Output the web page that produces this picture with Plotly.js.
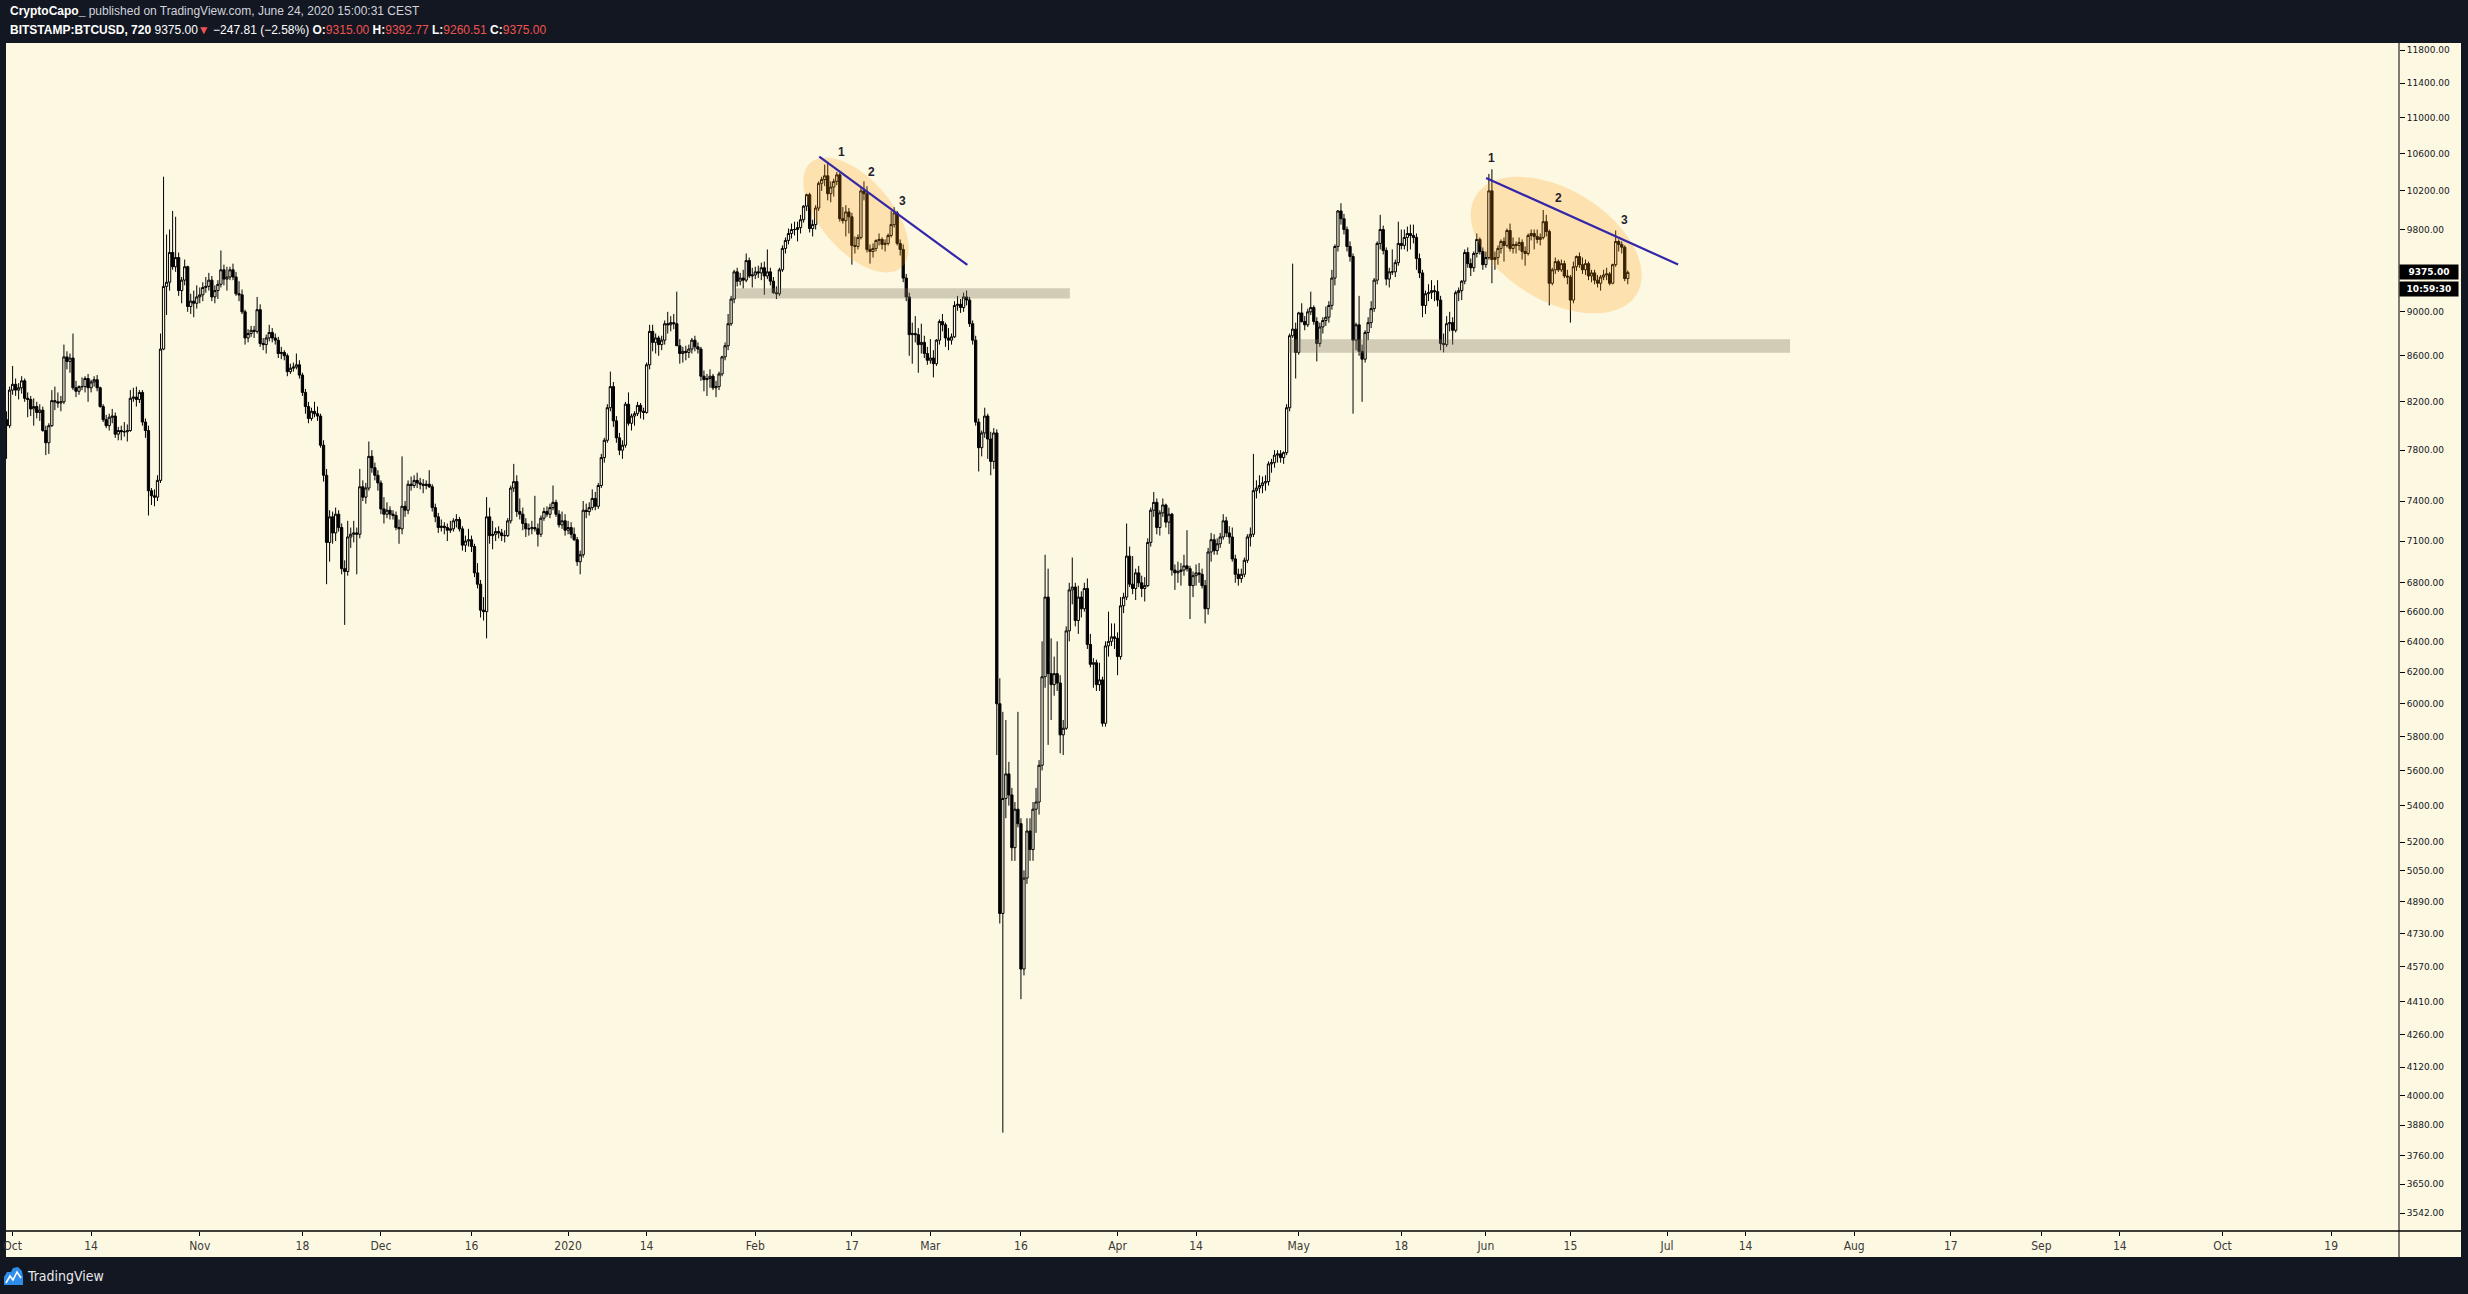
<!DOCTYPE html>
<html>
<head>
<meta charset="utf-8">
<script src="https://cdn.plot.ly/plotly-3.0.1.min.js"></script>
<style>
html,body{margin:0;padding:0;background:#131722;overflow:hidden}
#chart{width:2468px;height:1294px}
</style>
</head>
<body>
<div id="chart"></div>
<script>
// ===== DATA: 12h candles [open, high, low, close], BITSTAMP:BTCUSD =====
const sep2019 = [[8050,8120,7730,8000],[8000,8330,7980,8300]];
const oct2019 = [
[8300,8510,8260,8350],[8350,8400,8250,8300],[8300,8360,8220,8320],[8320,8420,8270,8380],
[8380,8400,8200,8230],[8230,8280,8070,8220],[8220,8250,8080,8140],[8140,8230,8000,8160],
[8160,8200,8060,8110],[8110,8180,8040,8130],[8130,8160,7950,7960],[7960,8000,7760,7860],
[7860,8020,7770,8000],[8000,8300,7990,8210],[8210,8330,8130,8200],[8200,8280,8150,8190],
[8190,8250,8120,8200],[8200,8700,8180,8590],[8590,8640,8480,8550],[8550,8620,8450,8580],
[8580,8800,8300,8320],[8320,8380,8240,8290],[8290,8340,8260,8330],[8330,8410,8300,8330],
[8330,8420,8280,8400],[8400,8440,8200,8320],[8320,8390,8280,8370],[8370,8420,8330,8390],
[8390,8430,8290,8320],[8320,8330,8150,8160],[8160,8180,8030,8050],[8050,8090,7980,8000],
[8000,8100,7960,8070],[8070,8140,8020,8080],[8080,8110,7900,7930],[7930,7990,7880,7960],
[7960,8000,7880,7950],[7950,8030,7910,7950],[7950,8010,7870,7960],[7960,8300,7950,8230],
[8230,8320,8200,8240],[8240,8330,8160,8220],[8220,8300,8190,8280],[8280,8300,8000,8030],
[8030,8060,7900,7960],[7960,8000,7290,7480],[7480,7500,7370,7440],[7440,7490,7360,7430],
[7430,7600,7400,7560],[7560,8800,7540,8660],[8660,10350,8650,9240],[9240,9750,8970,9280],
[9280,9800,9200,9570],[9570,9990,9400,9430],[9430,9930,9380,9520],[9520,9570,9150,9200],
[9200,9330,9080,9300],[9300,9500,9250,9430],[9430,9440,9000,9050],[9050,9170,8980,9100],
[9100,9200,8950,9080],[9080,9250,9030,9140]];
const nov2019 = [
[9140,9230,9080,9160],[9160,9280,9100,9230],[9230,9330,9180,9240],[9240,9370,9200,9300],
[9300,9340,9100,9140],[9140,9250,9080,9200],[9200,9300,9120,9260],[9260,9590,9230,9400],
[9400,9450,9250,9310],[9310,9430,9200,9330],[9330,9430,9300,9400],[9400,9460,9300,9330],
[9330,9380,9150,9170],[9170,9290,9100,9160],[9160,9210,8980,9000],[9000,9020,8700,8760],
[8760,8840,8720,8800],[8800,8870,8770,8830],[8830,8870,8760,8820],[8820,9140,8800,9020],
[9020,9070,8680,8710],[8710,8760,8650,8700],[8700,8790,8620,8760],[8760,8880,8730,8810],
[8810,8850,8720,8760],[8760,8800,8700,8740],[8740,8770,8580,8620],[8620,8680,8570,8630],
[8630,8650,8560,8600],[8600,8620,8420,8460],[8460,8530,8440,8490],[8490,8540,8460,8500],
[8500,8620,8480,8520],[8520,8560,8400,8430],[8430,8450,8250,8280],[8280,8310,8100,8160],
[8160,8200,8020,8060],[8060,8150,8040,8120],[8120,8200,8070,8100],[8100,8160,8040,8080],
[8080,8100,7820,7840],[7840,7880,7550,7600],[7600,7650,6790,7090],[7090,7330,6950,7280],
[7280,7320,7080,7160],[7160,7350,7100,7300],[7300,7330,7170,7200],[7200,7230,6860,6900],
[6900,6960,6510,6880],[6880,7250,6850,7130],[7130,7200,7050,7150],[7150,7250,7090,7160],
[7160,7200,6860,7150],[7150,7650,7120,7510],[7510,7560,7400,7430],[7430,7540,7380,7500],
[7500,7870,7480,7750],[7750,7800,7620,7660],[7660,7700,7560,7600],[7600,7640,7480,7540]];
const dec2019 = [
[7540,7560,7300,7340],[7340,7430,7230,7300],[7300,7390,7270,7330],[7330,7360,7260,7300],
[7300,7330,7260,7290],[7290,7320,7180,7200],[7200,7260,7080,7190],[7190,7750,7150,7360],
[7360,7400,7280,7330],[7330,7560,7300,7530],[7530,7590,7480,7520],[7520,7600,7500,7560],
[7560,7620,7500,7540],[7540,7580,7490,7530],[7530,7570,7460,7520],[7520,7560,7490,7530],
[7530,7640,7500,7510],[7510,7530,7320,7350],[7350,7380,7240,7280],[7280,7310,7160,7200],
[7200,7260,7170,7210],[7210,7240,7150,7200],[7200,7230,7100,7180],[7180,7250,7160,7190],
[7190,7270,7170,7250],[7250,7300,7200,7260],[7260,7280,7170,7190],[7190,7210,7030,7070],
[7070,7140,7020,7100],[7100,7190,7060,7110],[7110,7140,7020,7060],[7060,7080,6840,6870],
[6870,6940,6760,6790],[6790,6820,6560,6610],[6610,6700,6540,6600],[6600,7430,6420,7280],
[7280,7350,7080,7140],[7140,7250,7040,7150],[7150,7200,7100,7170],[7170,7210,7120,7160],
[7160,7190,7100,7140],[7140,7180,7090,7140],[7140,7270,7130,7250],[7250,7520,7230,7500],
[7500,7690,7470,7550],[7550,7600,7280,7320],[7320,7420,7260,7300],[7300,7350,7180,7230],
[7230,7270,7130,7190],[7190,7230,7140,7190],[7190,7250,7150,7200],[7200,7440,7170,7190],
[7190,7230,7060,7150],[7150,7290,7130,7270],[7270,7350,7250,7320],[7320,7360,7280,7300],
[7300,7380,7270,7350],[7350,7520,7330,7390],[7390,7410,7280,7300],[7300,7330,7200,7220],
[7220,7320,7190,7250],[7250,7300,7140,7180]];
const jan2020 = [
[7180,7250,7150,7200],[7200,7240,7120,7150],[7150,7200,7100,7110],[7110,7130,6920,6950],
[6950,7030,6860,7000],[7000,7400,6980,7330],[7330,7380,7270,7320],[7320,7390,7290,7350],
[7350,7490,7330,7420],[7420,7470,7330,7360],[7360,7540,7340,7520],[7520,7770,7500,7740],
[7740,7900,7700,7880],[7880,8180,7860,8150],[8150,8460,8120,8330],[8330,8370,7990,8040],
[8040,8080,7860,7900],[7900,7940,7760,7800],[7800,7880,7730,7840],[7840,8200,7820,8180],
[8180,8280,8000,8020],[8020,8100,7960,8080],[8080,8120,8000,8100],[8100,8200,8080,8170],
[8170,8190,8060,8120],[8120,8150,8050,8110],[8110,8540,8100,8520],[8520,8880,8480,8820],
[8820,8880,8640,8720],[8720,8800,8620,8760],[8760,8780,8600,8700],[8700,8780,8650,8740],
[8740,8920,8700,8890],[8890,9000,8800,8880],[8880,8960,8820,8900],[8900,8980,8840,8890],
[8890,9190,8850,8690],[8690,8750,8530,8620],[8620,8680,8540,8640],[8640,8690,8560,8630],
[8630,8700,8580,8660],[8660,8760,8620,8740],[8740,8780,8640,8680],[8680,8720,8620,8660],
[8660,8680,8380,8420],[8420,8470,8290,8390],[8390,8440,8250,8400],[8400,8480,8320,8420],
[8420,8440,8300,8320],[8320,8380,8240,8330],[8330,8460,8300,8440],[8440,8600,8420,8590],
[8590,8720,8560,8690],[8690,8980,8650,8890],[8890,9150,8870,9120],[9120,9400,9080,9380],
[9380,9420,9240,9290],[9290,9370,9250,9320],[9320,9400,9220,9300],[9300,9560,9280,9490],
[9490,9520,9320,9340],[9340,9420,9230,9350]];
const feb2020 = [
[9350,9430,9310,9380],[9380,9440,9320,9370],[9370,9470,9300,9420],[9420,9480,9160,9340],
[9340,9600,9310,9380],[9380,9420,9250,9290],[9290,9330,9170,9180],[9180,9240,9120,9170],
[9170,9420,9150,9400],[9400,9640,9380,9610],[9610,9720,9560,9690],[9690,9810,9650,9760],
[9760,9860,9710,9800],[9800,9880,9740,9800],[9800,9880,9680,9820],[9820,9950,9760,9900],
[9900,10050,9870,10040],[10040,10170,9990,10160],[10160,10180,9770,9810],[9810,9900,9730,9850],
[9850,10050,9800,10020],[10020,10300,9990,10280],[10280,10350,10200,10320],[10320,10480,10250,10360],
[10360,10510,10100,10170],[10170,10300,10080,10240],[10240,10330,10140,10300],[10300,10400,10260,10370],
[10370,10390,9880,9910],[9910,10030,9860,9890],[9890,10050,9730,9980],[9980,10020,9760,9930],
[9930,9970,9450,9640],[9640,9730,9560,9630],[9630,9750,9600,9720],[9720,10240,9700,10200],
[10200,10300,10100,10170],[10170,10250,9570,9600],[9600,9650,9460,9580],[9580,9660,9520,9610],
[9610,9700,9580,9690],[9690,9760,9640,9700],[9700,9720,9600,9650],[9650,9700,9580,9660],
[9660,9760,9640,9740],[9740,9990,9720,9850],[9850,10030,9820,9970],[9970,9990,9640,9660],
[9660,9700,9540,9600],[9600,9650,9280,9320],[9320,9360,9100,9140],[9140,9180,8600,8790],
[8790,8900,8530,8800],[8800,8960,8720,8790],[8790,8850,8450,8700],[8700,8890,8620,8720],
[8720,8780,8580,8620],[8620,8680,8520,8560]];
const mar2020 = [
[8560,8750,8530,8580],[8580,8650,8410,8530],[8530,8750,8510,8740],[8740,8930,8700,8910],
[8910,8980,8820,8880],[8880,8900,8680,8760],[8760,8850,8650,8740],[8740,8800,8700,8770],
[8770,9100,8760,9060],[9060,9150,9010,9070],[9070,9120,8990,9040],[9040,9180,9000,9140],
[9140,9200,9060,9110],[9110,9140,8860,8890],[8890,8920,8700,8740],[8740,8780,8000,8030],
[8030,8060,7630,7820],[7820,7960,7750,7940],[7940,8150,7900,8080],[8080,8100,7730,7890],
[7890,7950,7600,7710],[7710,7980,7650,7940],[7940,7970,5690,6000],[6000,6160,4780,4830],
[4830,5950,3850,5440],[5440,5900,5330,5580],[5580,5650,5400,5460],[5460,5500,5100,5170],
[5170,5420,5100,5380],[5380,5950,5280,5300],[5300,5330,4420,4560],[4560,5050,4530,5010],
[5010,5330,4980,5260],[5260,5330,5100,5160],[5160,5420,5100,5380],[5380,5500,5250,5420],
[5420,5660,5350,5630],[5630,6400,5600,6170],[6170,7000,6100,6700],[6700,6900,5750,6190],
[6190,6420,5900,6120],[6120,6300,6050,6190],[6190,6400,6080,6130],[6130,6180,5700,5810],
[5810,5900,5690,5850],[5850,6500,5840,6470],[6470,6800,6400,6750],[6750,6980,6650,6770],
[6770,6800,6500,6540],[6540,6780,6450,6700],[6700,6740,6560,6620],[6620,6800,6600,6760],
[6760,6830,6350,6380],[6380,6450,6230,6250],[6250,6290,6100,6260],[6260,6280,6080,6120],
[6120,6260,6080,6150],[6150,6170,5860,5880],[5880,6400,5860,6370],[6370,6600,6300,6400],
[6400,6520,6370,6430],[6430,6520,6350,6420]];
const apr2020 = [
[6420,6460,6180,6300],[6300,6700,6280,6640],[6640,6730,6590,6700],[6700,7230,6680,6990],
[6990,7060,6770,6790],[6790,6990,6720,6760],[6760,6900,6680,6870],[6870,6920,6770,6800],
[6800,6850,6700,6760],[6760,6840,6670,6780],[6780,7120,6770,7090],[7090,7350,7060,7330],
[7330,7470,7280,7390],[7390,7420,7150,7200],[7200,7330,7140,7310],[7310,7420,7280,7370],
[7370,7380,7200,7240],[7240,7350,7150,7300],[7300,7310,6850,6890],[6890,6930,6750,6870],
[6870,6950,6800,6880],[6880,6940,6780,6890],[6890,7000,6850,6920],[6920,7180,6880,6900],
[6900,6920,6550,6780],[6780,6880,6700,6850],[6850,6930,6780,6870],[6870,6940,6800,6860],
[6860,6900,6760,6780],[6780,6820,6520,6620],[6620,7050,6580,7020],[7020,7160,6950,7110],
[7110,7150,7000,7030],[7030,7120,7000,7080],[7080,7160,7050,7130],[7130,7300,7110,7250],
[7250,7280,7130,7160],[7160,7210,7080,7130],[7130,7200,6950,6970],[6970,7000,6800,6860],
[6860,6900,6780,6830],[6830,6900,6800,6860],[6860,6980,6840,6960],[6960,7150,6940,7130],
[7130,7200,7060,7150],[7150,7770,7130,7480],[7480,7560,7420,7500],[7500,7600,7460,7520],
[7520,7590,7460,7540],[7540,7600,7480,7550],[7550,7710,7520,7690],[7690,7730,7620,7700],
[7700,7800,7660,7760],[7760,7800,7700,7770],[7770,7800,7700,7740],[7740,7790,7690,7780],
[7780,8180,7760,8150],[8150,8800,8120,8780],[8780,9460,8760,8840],[8840,8900,8400,8630]];
const may2020 = [
[8630,9000,8610,8990],[8990,9080,8900,8910],[8910,8960,8830,8880],[8880,9030,8860,9000],
[9000,9190,8970,9040],[9040,9060,8880,8910],[8910,8950,8550,8710],[8710,8900,8680,8860],
[8860,8950,8800,8920],[8920,9050,8870,8950],[8950,9100,8900,9060],[9060,9400,9020,9320],
[9320,9650,9250,9630],[9630,10000,9580,9990],[9990,10070,9850,9910],[9910,9960,9750,9800],
[9800,9830,9580,9630],[9630,9680,9480,9530],[9530,9560,8100,8740],[8740,8900,8650,8880],
[8880,9150,8600,8640],[8640,8700,8200,8570],[8570,8830,8540,8810],[8810,8950,8740,8900],
[8900,9100,8850,9030],[9030,9320,9000,9300],[9300,9680,9260,9660],[9660,9950,9600,9800],
[9800,9840,9550,9590],[9590,9620,9250,9310],[9310,9420,9230,9380],[9380,9600,9350,9380],
[9380,9500,9330,9470],[9470,9880,9440,9660],[9660,9800,9600,9640],[9640,9800,9600,9720],
[9720,9830,9580,9760],[9760,9850,9600,9740],[9740,9850,9660,9720],[9720,9760,9400,9510],
[9510,9560,9320,9370],[9370,9400,8950,9060],[9060,9200,8980,9170],[9170,9260,9100,9180],
[9180,9300,9120,9200],[9200,9250,9100,9190],[9190,9300,9050,9110],[9110,9150,8650,8710],
[8710,8800,8630,8700],[8700,8960,8680,8890],[8890,9000,8820,8900],[8900,8950,8700,8830],
[8830,9200,8810,9180],[9180,9230,9100,9200],[9200,9300,9110,9290],[9290,9600,9260,9570],
[9570,9620,9420,9460],[9460,9510,9340,9420],[9420,9580,9380,9560],[9560,9760,9520,9700],
[9700,9720,9550,9580],[9580,9620,9400,9450]];
const jun2020 = [
[9450,9580,9420,9520],[9520,10380,9500,10200],[10200,10430,9270,9500],[9500,9580,9400,9520],
[9520,9640,9450,9610],[9610,9700,9560,9680],[9680,9720,9480,9640],[9640,9810,9620,9790],
[9790,9860,9580,9610],[9610,9720,9560,9650],[9650,9680,9560,9640],[9640,9720,9590,9670],
[9670,9700,9500,9580],[9580,9630,9440,9560],[9560,9760,9540,9740],[9740,9800,9690,9760],
[9760,9800,9600,9730],[9730,9800,9660,9700],[9700,9760,9640,9720],[9720,10000,9700,9880],
[9880,9950,9730,9780],[9780,9800,9060,9270],[9270,9420,9250,9400],[9400,9520,9360,9480],
[9480,9500,9380,9400],[9400,9500,9380,9460],[9460,9490,9320,9340],[9340,9400,9260,9330],
[9330,9350,8900,9110],[9110,9480,9080,9430],[9430,9540,9390,9530],[9530,9570,9420,9450],
[9450,9520,9360,9400],[9400,9500,9350,9460],[9460,9480,9300,9340],[9340,9400,9280,9370],
[9370,9400,9260,9300],[9300,9350,9230,9270],[9270,9350,9200,9330],[9330,9400,9300,9350],
[9350,9420,9300,9360],[9360,9380,9250,9270],[9270,9460,9260,9450],[9450,9790,9430,9680],
[9680,9700,9580,9650],[9650,9680,9560,9622.81],[9622.81,9640,9290,9315],[9315,9392.77,9260.51,9375]];

const monthStarts = ['2019-09-30','2019-10-01','2019-11-01','2019-12-01','2020-01-01','2020-02-01','2020-03-01','2020-04-01','2020-05-01','2020-06-01'];
const monthRows = [sep2019,oct2019,nov2019,dec2019,jan2020,feb2020,mar2020,apr2020,may2020,jun2020];

const yTickValues = [11800,11400,11000,10600,10200,9800,9000,8600,8200,7800,7400,7100,6800,6600,6400,6200,6000,5800,5600,5400,5200,5050,4890,4730,4570,4410,4260,4120,4000,3880,3760,3650,3542];
const xTickDates = ['2019-10-01','2019-10-14','2019-11-01','2019-11-18','2019-12-01','2019-12-16','2020-01-01','2020-01-14','2020-02-01','2020-02-17','2020-03-01','2020-03-16','2020-04-01','2020-04-14','2020-05-01','2020-05-18','2020-06-01','2020-06-15','2020-07-01','2020-07-14','2020-08-01','2020-08-17','2020-09-01','2020-09-14','2020-10-01','2020-10-19'];
const xTickLabels = ['Oct','14','Nov','18','Dec','16','2020','14','Feb','17','Mar','16','Apr','14','May','18','Jun','15','Jul','14','Aug','17','Sep','14','Oct','19'];

const lastPrice = 9375.00;
const countdown = '10:59:30';

// ===== drawings (author annotations) =====
const trendLines = [
  {x0:'2020-02-11 14:24', y0:10567, x1:'2020-03-07 02:53', y1:9447},
  {x0:'2020-06-01 00:43', y0:10337, x1:'2020-07-02 20:00', y1:9452}
];
const zones = [
  {x0:'2020-01-28 19:12', x1:'2020-03-24 02:24', lo:9126, hi:9222},
  {x0:'2020-04-29 06:43', x1:'2020-07-21 09:00', lo:8627, hi:8749}
];
const ellipses = [
  {cx:'2020-02-17 16:20', cy:9949, a:69.4, b:35.7, rot:49.2},
  {cx:'2020-06-12 15:36', cy:9644, a:94.3, b:55.5, rot:31.5}
];
const waveLabels = [
  {t:'1', x:'2020-02-15 07:26', y:10621}, {t:'2', x:'2020-02-20 06:43', y:10404}, {t:'3', x:'2020-02-25 08:24', y:10097},
  {t:'1', x:'2020-06-01 23:02', y:10549}, {t:'2', x:'2020-06-12 23:46', y:10128}, {t:'3', x:'2020-06-23 22:19', y:9897}
];

// ===== build series =====
const HALF_DAY = 12*3600*1000;
const pad2 = n => String(n).padStart(2,'0');
function fmt(ms){const d=new Date(ms);return d.getUTCFullYear()+'-'+pad2(d.getUTCMonth()+1)+'-'+pad2(d.getUTCDate())+' '+pad2(d.getUTCHours())+':'+pad2(d.getUTCMinutes());}
const X=[],O=[],Hh=[],L=[],C=[];
monthRows.forEach((rows,mi)=>{
  const t0 = Date.parse(monthStarts[mi]+'T00:00:00Z');
  rows.forEach((r,i)=>{X.push(fmt(t0+i*HALF_DAY));O.push(r[0]);Hh.push(r[1]);L.push(r[2]);C.push(r[3]);});
});

// ===== geometry =====
const W=2468, HT=1294;
const MARGIN={l:6,r:69,t:43,b:63};
const PW=W-MARGIN.l-MARGIN.r, PH=HT-MARGIN.t-MARGIN.b;
const XR=['2019-09-29 21:46','2020-10-30 05:31'];
const YR=[3477.5,11885.8];
function toMs(s){ return s.length>10 ? Date.parse(s.replace(' ','T')+':00Z') : Date.parse(s+'T00:00:00Z'); }
const XA=toMs(XR[0]), XB=toMs(XR[1]);
const LY0=Math.log10(YR[0]), LY1=Math.log10(YR[1]);
const pxX = s => MARGIN.l + PW*(toMs(s)-XA)/(XB-XA);
const pxY = p => MARGIN.t + PH*(LY1-Math.log10(p))/(LY1-LY0);
const pX = px => (px-MARGIN.l)/PW;
const pY = py => (MARGIN.t+PH-py)/PH;

const CREAM='#FDF8E2', DARK='#131722', RED='#EF5350';
const NARROW='"Liberation Sans Narrow","DejaVu Sans Condensed","Liberation Sans",sans-serif';
const HDR='"Liberation Sans",Arial,sans-serif';

const shapes=[];
shapes.push({type:'rect',xref:'paper',yref:'paper',x0:0,x1:pX(2461),y0:pY(1257),y1:1,fillcolor:CREAM,line:{width:0},layer:'below'});
shapes.push({type:'line',xref:'paper',yref:'paper',x0:0,x1:pX(2461),y0:0,y1:0,line:{color:'#000',width:1.5},layer:'above'});
shapes.push({type:'line',xref:'paper',yref:'paper',x0:1,x1:1,y0:pY(1257),y1:1,line:{color:'#000',width:1},layer:'above'});
zones.forEach(z=>shapes.push({type:'rect',xref:'paper',yref:'paper',x0:pX(pxX(z.x0)),x1:pX(pxX(z.x1)),y0:pY(pxY(z.lo)),y1:pY(pxY(z.hi)),fillcolor:'rgba(130,120,100,0.35)',line:{width:0},layer:'above'}));
function ellipsePath(e){
  const cx=pxX(e.cx), cy=pxY(e.cy), th=e.rot*Math.PI/180; let s='';
  for(let k=0;k<=90;k++){const t=2*Math.PI*k/90;const ex=e.a*Math.cos(t), ey=e.b*Math.sin(t);
    const px=cx+ex*Math.cos(th)-ey*Math.sin(th), py=cy+ex*Math.sin(th)+ey*Math.cos(th);
    s+=(k?'L':'M')+pX(px).toFixed(6)+','+pY(py).toFixed(6);}
  return s+'Z';
}
ellipses.forEach(e=>shapes.push({type:'path',xref:'paper',yref:'paper',path:ellipsePath(e),fillcolor:'rgba(255,152,0,0.22)',line:{width:0},layer:'above'}));
trendLines.forEach(t=>shapes.push({type:'line',xref:'paper',yref:'paper',x0:pX(pxX(t.x0)),y0:pY(pxY(t.y0)),x1:pX(pxX(t.x1)),y1:pY(pxY(t.y1)),line:{color:'#3426A8',width:2.2},layer:'above'}));
function polyPath(pts,close){return pts.map((p,i)=>(i?'L':'M')+pX(p[0]).toFixed(6)+','+pY(p[1]).toFixed(6)).join('')+(close?'Z':'');}
shapes.push({type:'path',xref:'paper',yref:'paper',path:polyPath([[4,1285],[4,1277],[7,1272],[11,1272],[13,1268],[18,1267],[22,1271],[23,1277],[23,1285]],true),fillcolor:'#2E8DEB',line:{width:0}});
shapes.push({type:'path',xref:'paper',yref:'paper',path:polyPath([[6,1283],[10,1276],[13,1280],[17,1272],[21,1278]],false),line:{color:'#ffffff',width:1.6}});

const annotations=[];
const hdrFont={family:HDR,size:12,color:'#D1D4DC'};
annotations.push({xref:'paper',yref:'paper',x:pX(8),y:pY(11),xanchor:'left',yanchor:'middle',showarrow:false,font:hdrFont,
  text:'<b><span style="color:#ffffff">CryptoCapo_</span></b> published on TradingView.com, June 24, 2020 15:00:31 CEST'});
annotations.push({xref:'paper',yref:'paper',x:pX(8),y:pY(30),xanchor:'left',yanchor:'middle',showarrow:false,font:hdrFont,
  text:'<b><span style="color:#ffffff">BITSTAMP:BTCUSD, 720</span></b> <span style="color:#ffffff">9375.00</span><span style="color:'+RED+'">▼</span> <span style="color:#ffffff">−247.81 (−2.58%)</span> <b><span style="color:#ffffff">O:</span></b><span style="color:'+RED+'">9315.00</span> <b><span style="color:#ffffff">H:</span></b><span style="color:'+RED+'">9392.77</span> <b><span style="color:#ffffff">L:</span></b><span style="color:'+RED+'">9260.51</span> <b><span style="color:#ffffff">C:</span></b><span style="color:'+RED+'">9375.00</span>'});
annotations.push({xref:'paper',yref:'paper',x:pX(25),y:pY(1276),xanchor:'left',yanchor:'middle',showarrow:false,font:{family:NARROW,size:14,color:'#E8E9EC'},text:'TradingView'});
waveLabels.forEach(w=>annotations.push({xref:'paper',yref:'paper',x:pX(pxX(w.x)),y:pY(pxY(w.y)),xanchor:'center',yanchor:'middle',showarrow:false,font:{family:HDR,size:12,color:'#1E222D'},text:'<b>'+w.t+'</b>'}));
annotations.push({xref:'paper',yref:'paper',x:1,y:pY(pxY(lastPrice)),xanchor:'left',yanchor:'middle',showarrow:false,bgcolor:'#000',borderpad:2,width:54,align:'center',font:{family:'"DejaVu Sans",Verdana,sans-serif',size:9,color:'#fff'},text:'<b>'+lastPrice.toFixed(2)+'</b>'});
annotations.push({xref:'paper',yref:'paper',x:1,y:pY(pxY(lastPrice)+17),xanchor:'left',yanchor:'middle',showarrow:false,bgcolor:'#000',borderpad:2,width:54,align:'center',font:{family:'"DejaVu Sans",Verdana,sans-serif',size:9,color:'#fff'},text:'<b>'+countdown+'</b>'});

const trace={type:'candlestick',x:X,open:O,high:Hh,low:L,close:C,
  increasing:{line:{color:'#000000',width:1},fillcolor:CREAM},
  decreasing:{line:{color:'#000000',width:1},fillcolor:'#000000'},
  whiskerwidth:0,hoverinfo:'skip',showlegend:false};

const layout={
  width:W,height:HT,margin:{l:MARGIN.l,r:MARGIN.r,t:MARGIN.t,b:MARGIN.b,pad:0},
  paper_bgcolor:DARK,plot_bgcolor:CREAM,showlegend:false,
  boxgap:0.25,boxgroupgap:0,
  xaxis:{type:'date',range:XR,rangeslider:{visible:false},showgrid:false,zeroline:false,
    tickmode:'array',tickvals:xTickDates,ticktext:xTickLabels,ticks:'outside',ticklen:4,tickcolor:'#000',tickwidth:1,
    showline:false,tickfont:{family:NARROW,size:12,color:'#3a3a3a'},fixedrange:true},
  yaxis:{type:'log',side:'right',range:[LY0,LY1],showgrid:false,zeroline:false,
    tickmode:'array',tickvals:yTickValues,ticktext:yTickValues.map(v=>v.toFixed(2)),ticks:'outside',ticklen:5,tickcolor:'#000',tickwidth:1,
    showline:false,tickfont:{family:'"DejaVu Sans",Verdana,sans-serif',size:9,color:'#131722'},fixedrange:true},
  shapes:shapes,annotations:annotations
};
Plotly.newPlot('chart',[trace],layout,{displayModeBar:false,staticPlot:true});
</script>
</body>
</html>
